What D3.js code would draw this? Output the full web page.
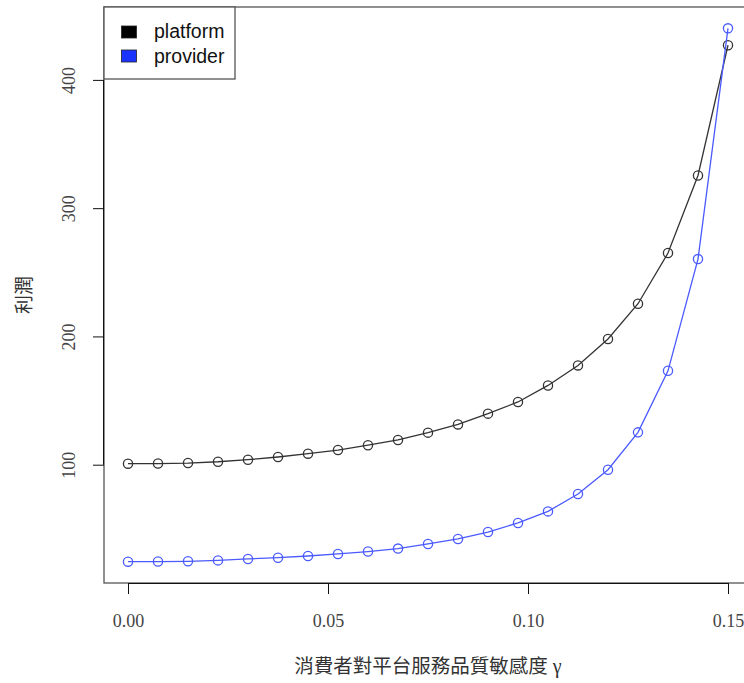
<!DOCTYPE html>
<html>
<head>
<meta charset="utf-8">
<script src="https://cdn.jsdelivr.net/npm/d3@7"></script>
<style>
  html, body { margin: 0; padding: 0; background: #fff; }
  svg { display: block; }
</style>
</head>
<body>
<svg id="chart" width="744" height="683"></svg>
<script>
// Sensitivity of consumers to platform service quality (gamma)
const gamma = [0, 0.0075, 0.015, 0.0225, 0.03, 0.0375, 0.045, 0.0525, 0.06, 0.0675,
               0.075, 0.0825, 0.09, 0.0975, 0.105, 0.1125, 0.12, 0.1275, 0.135, 0.1425, 0.15];

// Profit of the platform
const platform = [100.8, 100.9, 101.3, 102.3, 103.9, 106.0, 108.6, 111.4, 115.2, 119.3,
                  125.0, 131.4, 139.8, 148.9, 161.8, 177.4, 198.0, 225.5, 265.0, 325.5, 427.0];

// Profit of the service provider
const provider = [24.4, 24.5, 24.7, 25.4, 26.5, 27.5, 28.8, 30.4, 32.3, 34.6,
                  38.2, 42.1, 47.5, 54.6, 63.6, 77.2, 96.1, 125.2, 173.2, 260.3, 440.2];

const seriesNames = ["platform", "provider"];
const seriesColors = ["#000000", "#1a33ff"];
const lineColors = ["#333333", "#4a5aff"];

const xTicks = [0, 0.05, 0.10, 0.15];
const yTicks = [100, 200, 300, 400];
const xTitle = "消費者對平台服務品質敏感度";
const yTitle = "利潤";

const svg = d3.select("#chart");
const plot = { left: 104, right: 752, top: 7, bottom: 583 };

// Base-graphics style 4% padding around the data range
function padded(ext) {
  const d = (ext[1] - ext[0]) * 0.04;
  return [ext[0] - d, ext[1] + d];
}

const x = d3.scaleLinear()
  .domain(padded(d3.extent(gamma)))
  .range([plot.left, plot.right]);

const y = d3.scaleLinear()
  .domain(padded(d3.extent(platform.concat(provider))))
  .range([plot.bottom, plot.top]);

const serif = "'Liberation Serif', 'DejaVu Serif', serif";
const sans = "'Liberation Sans', Arial, sans-serif";
const cjk = "'Noto Sans CJK TC', 'Noto Sans CJK SC', sans-serif";

// Plot frame
svg.append("rect")
  .attr("x", plot.left).attr("y", plot.top)
  .attr("width", plot.right - plot.left).attr("height", plot.bottom - plot.top)
  .attr("fill", "none").attr("stroke", "#555").attr("stroke-width", 1.3);

// Bottom axis
const xAxis = svg.append("g")
  .attr("transform", `translate(0,${plot.bottom})`)
  .call(d3.axisBottom(x).tickValues(xTicks).tickFormat(d3.format(".2f")).tickSize(11).tickPadding(6));
xAxis.select(".domain").attr("d", `M${x(xTicks[0])},0.5H${x(xTicks[xTicks.length - 1])}`)
  .attr("stroke", "#111");
xAxis.selectAll(".tick line").attr("stroke", "#111");
xAxis.selectAll(".tick text")
  .attr("font-family", serif).attr("font-size", 18).attr("fill", "#444")
  .attr("dy", null).attr("y", 44);

// Left axis
const yAxis = svg.append("g")
  .attr("transform", `translate(${plot.left},0)`)
  .call(d3.axisLeft(y).tickValues(yTicks).tickFormat(d3.format("d")).tickSize(11));
yAxis.select(".domain").attr("d", `M-0.5,${y(yTicks[0])}V${y(yTicks[yTicks.length - 1])}`)
  .attr("stroke", "#111");
yAxis.selectAll(".tick line").attr("stroke", "#111");
yAxis.selectAll(".tick text").remove();
yAxis.selectAll(".tick").append("text")
  .attr("transform", "translate(-29,0) rotate(-90)")
  .attr("text-anchor", "middle")
  .attr("font-family", serif).attr("font-size", 18).attr("fill", "#444")
  .text(d => d3.format("d")(d));

// Axis titles
const xt = svg.append("text")
  .attr("x", (plot.left + plot.right) / 2).attr("y", 673)
  .attr("text-anchor", "middle")
  .attr("font-family", cjk).attr("font-size", 19.5).attr("fill", "#333");
xt.append("tspan").text(xTitle);
xt.append("tspan").attr("font-family", serif).attr("font-size", 20).text(" γ");

svg.append("text")
  .attr("transform", `translate(22,${(plot.top + plot.bottom) / 2}) rotate(-90)`)
  .attr("text-anchor", "middle").attr("dominant-baseline", "central")
  .attr("font-family", cjk).attr("font-size", 19).attr("fill", "#333")
  .text(yTitle);

// Series: lines with open circles
const series = [platform, provider];
series.forEach((vals, i) => {
  const pts = gamma.map((g, j) => [g, vals[j]]);
  svg.append("path")
    .datum(pts)
    .attr("fill", "none")
    .attr("stroke", lineColors[i])
    .attr("stroke-width", 1.3)
    .attr("d", d3.line().x(d => x(d[0])).y(d => y(d[1])));
  svg.append("g").selectAll("circle")
    .data(pts).join("circle")
    .attr("cx", d => x(d[0])).attr("cy", d => y(d[1]))
    .attr("r", 4.6)
    .attr("fill", "none")
    .attr("stroke", lineColors[i])
    .attr("stroke-width", 1.3);
});

// Legend
const legend = svg.append("g");
legend.append("rect")
  .attr("x", plot.left).attr("y", plot.top)
  .attr("width", 131).attr("height", 72)
  .attr("fill", "#fff").attr("stroke", "#555").attr("stroke-width", 1.3);
seriesNames.forEach((name, i) => {
  legend.append("rect")
    .attr("x", 121.5).attr("y", 26 + i * 24)
    .attr("width", 15).attr("height", 12)
    .attr("fill", seriesColors[i]).attr("stroke", "#222").attr("stroke-width", 0.8);
  legend.append("text")
    .attr("x", 154).attr("y", 38 + i * 25)
    .attr("font-family", sans).attr("font-size", 19.5).attr("fill", "#111")
    .text(name);
});
</script>
</body>
</html>
